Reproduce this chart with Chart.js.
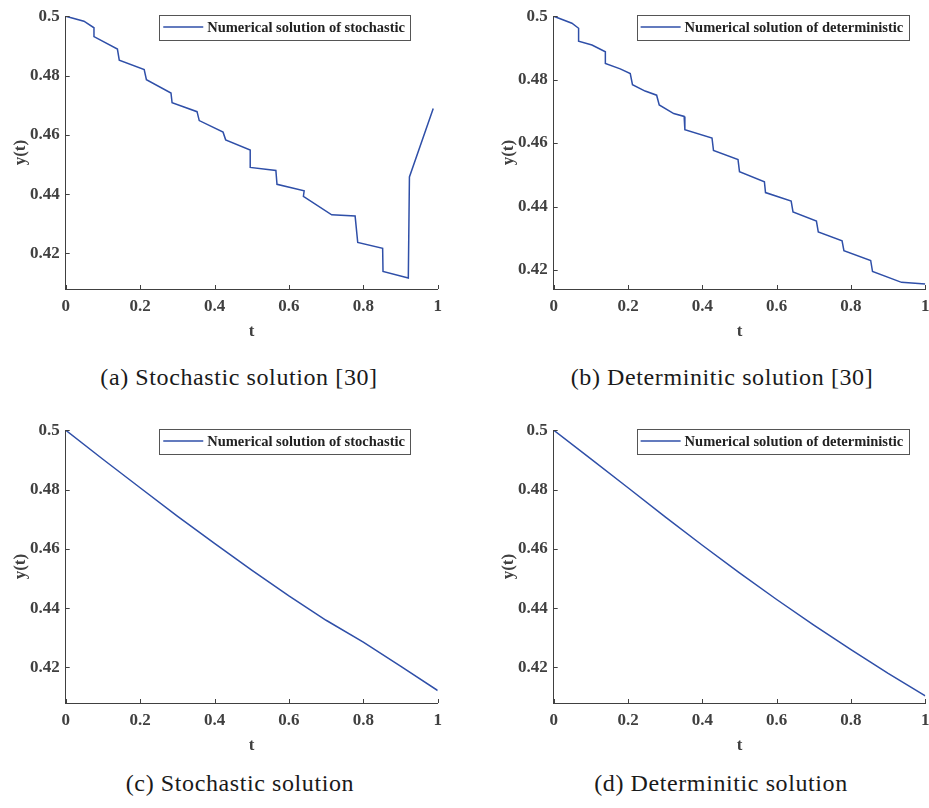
<!DOCTYPE html>
<html>
<head>
<meta charset="utf-8">
<script src="https://cdn.jsdelivr.net/npm/chart.js@4"></script>
<style>

  body{
    margin:0;
    background:#fff;
    width:929px;
    height:808px;
    position:relative;
    overflow:hidden;
  }

  canvas{
    position:absolute;
  }

  .cap{
    position:absolute;
    font-family:"Liberation Serif", "Times New Roman", serif;
    font-size:24px;
    letter-spacing:0.6px;
    line-height:28px;
    color:#1a1a1a;
    white-space:nowrap;
    transform:translateX(-50%);
  }

</style>
</head>
<body>

<canvas id="chartA" width="465" height="345" style="left:0;top:0"></canvas>
<canvas id="chartB" width="460" height="345" style="left:488px;top:0"></canvas>
<canvas id="chartC" width="465" height="345" style="left:0;top:414px"></canvas>
<canvas id="chartD" width="460" height="345" style="left:488px;top:414px"></canvas>

<div class="cap" style="left:239px;top:363px">(a) Stochastic solution [30]</div>
<div class="cap" style="left:722px;top:363px">(b) Determinitic solution [30]</div>
<div class="cap" style="left:240px;top:769px">(c) Stochastic solution</div>
<div class="cap" style="left:721px;top:769px">(d) Determinitic solution</div>

<script>

// =====================================
// DATA
// =====================================

const stochRefT =
  [0, 0.049, 0.076, 0.076, 0.139, 0.144, 0.211, 0.217, 0.283, 0.286,
   0.353, 0.359, 0.423, 0.430, 0.496, 0.496, 0.565, 0.568, 0.641, 0.639,
   0.715, 0.778, 0.785, 0.852, 0.853, 0.921, 0.924, 0.988];

const stochRefY =
  [0.5, 0.4983, 0.4961, 0.4931, 0.4889, 0.4852, 0.482, 0.4786, 0.4741, 0.4708,
   0.4678, 0.4648, 0.4609, 0.4583, 0.4549, 0.449, 0.448, 0.4433, 0.4411, 0.4392,
   0.433, 0.4326, 0.4237, 0.4217, 0.4139, 0.4117, 0.4458, 0.4689];

const detRefT =
  [0, 0.049, 0.067, 0.067, 0.103, 0.139, 0.139, 0.179, 0.206, 0.212,
   0.246, 0.277, 0.284, 0.323, 0.351, 0.353, 0.426, 0.430, 0.496, 0.5,
   0.567, 0.570, 0.639, 0.644, 0.707, 0.712, 0.776, 0.781, 0.853, 0.858,
   0.936, 1.0];

const detRefY =
  [0.5, 0.4978, 0.4962, 0.4921, 0.4909, 0.4888, 0.4851, 0.4834, 0.4819, 0.4784,
   0.4764, 0.4751, 0.472, 0.4693, 0.4684, 0.4642, 0.4616, 0.4577, 0.4548, 0.451,
   0.4478, 0.4444, 0.4417, 0.4383, 0.4354, 0.432, 0.4292, 0.4261, 0.423, 0.4195,
   0.4161, 0.4156];

const ownT =
  [0, 0.1, 0.2, 0.3, 0.4, 0.5, 0.6, 0.7, 0.8, 0.9, 1.0];

const stochOwnY =
  [0.5, 0.4902, 0.4806, 0.471, 0.4618, 0.4528, 0.4441, 0.4359, 0.4285, 0.4204, 0.4122];

const detOwnY =
  [0.5, 0.4903, 0.4806, 0.4708, 0.4612, 0.4519, 0.4429, 0.4343, 0.426, 0.418, 0.4104];

const xTicks =
  [0, 0.2, 0.4, 0.6, 0.8, 1];

const yTicks =
  [0.42, 0.44, 0.46, 0.48, 0.5];

const stochLabel = "Numerical solution of stochastic";
const detLabel = "Numerical solution of deterministic";


// =====================================
// STYLE
// =====================================

const LINE_BLUE = "#2f4fa8";
const INK = "#404040";
const SERIF = "'Liberation Serif', 'Times New Roman', serif";


// =====================================
// PLUGIN: inward ticks + boxed legend
// =====================================

const matlabAxes = {

  id:"matlabAxes",

  afterDraw(chart, args, opts){

    const ctx = chart.ctx;
    const area = chart.chartArea;
    const xs = chart.scales.x;
    const ys = chart.scales.y;

    ctx.save();

    // ticks pointing into the plot
    ctx.strokeStyle = INK;
    ctx.lineWidth = 1;
    ctx.beginPath();

    xs.ticks.forEach(t => {
      const px = Math.round(xs.getPixelForValue(t.value)) + 0.5;
      ctx.moveTo(px, area.bottom);
      ctx.lineTo(px, area.bottom - 4);
    });

    ys.ticks.forEach(t => {
      const py = Math.round(ys.getPixelForValue(t.value)) + 0.5;
      ctx.moveTo(area.left, py);
      ctx.lineTo(area.left + 4, py);
    });

    ctx.stroke();

    // legend box
    const ds = chart.data.datasets[0];

    ctx.font = "bold 14.5px " + SERIF;

    const textW = ctx.measureText(ds.label).width;
    const w = 4 + 40 + 4 + textW + 5;
    const h = 24.5;
    const right = area.right - opts.rightGap;
    const left = right - w;
    const top = area.top - 1.5;

    ctx.fillStyle = "#fff";
    ctx.fillRect(left, top, w, h);

    ctx.strokeStyle = "#555";
    ctx.lineWidth = 1;
    ctx.strokeRect(Math.round(left) + 0.5, Math.round(top) + 0.5, Math.round(w), Math.round(h));

    ctx.strokeStyle = ds.borderColor;
    ctx.lineWidth = ds.borderWidth;
    ctx.beginPath();
    ctx.moveTo(left + 4, top + h / 2);
    ctx.lineTo(left + 44, top + h / 2);
    ctx.stroke();

    ctx.fillStyle = "#222";
    ctx.textBaseline = "middle";
    ctx.textAlign = "left";
    ctx.fillText(ds.label, left + 48, top + h / 2 + 1);

    ctx.restore();

  }

};


// =====================================
// CHART BUILDER
// =====================================

function fmt(v){

  return String(Number(v.toFixed(2)));

}

function makeChart(id, ts, ys, label, yMin, padRight, legendGap){

  const ctx =
    document.getElementById(id).getContext("2d");

  return new Chart(ctx, {

    type:"line",

    data:{

      datasets:[

        {
          label,
          data:ts.map((t, i) => ({ x:t, y:ys[i] })),
          borderColor:LINE_BLUE,
          borderWidth:1.5,
          pointRadius:0,
          tension:0,
          fill:false
        }

      ]

    },

    plugins:[matlabAxes],

    options:{

      responsive:false,
      animation:false,
      events:[],

      layout:{
        padding:{ top:14, left:0, right:padRight, bottom:0 }
      },

      plugins:{
        legend:{ display:false },
        tooltip:{ enabled:false },
        matlabAxes:{ rightGap:legendGap }
      },

      scales:{

        x:{
          type:"linear",
          min:0,
          max:1,
          afterBuildTicks:s => { s.ticks = xTicks.map(v => ({ value:v })); },
          afterFit:s => { s.height = 56; },
          grid:{ display:false, drawTicks:false },
          border:{ display:true, color:INK, width:1 },
          ticks:{
            padding:7,
            color:INK,
            font:{ family:SERIF, size:17, weight:"bold" },
            callback:v => fmt(v)
          },
          title:{
            display:true,
            text:"t",
            color:INK,
            font:{ family:SERIF, size:17, weight:"bold" },
            padding:{ top:0, bottom:3 }
          }
        },

        y:{
          type:"linear",
          min:yMin,
          max:0.5,
          afterBuildTicks:s => { s.ticks = yTicks.map(v => ({ value:v })); },
          afterFit:s => { s.width = 65.7; },
          grid:{ display:false, drawTicks:false },
          border:{ display:true, color:INK, width:1 },
          ticks:{
            padding:6,
            color:INK,
            font:{ family:SERIF, size:17, weight:"bold" },
            callback:v => fmt(v)
          },
          title:{
            display:true,
            text:"y(t)",
            color:INK,
            font:{ family:SERIF, size:17, weight:"bold" },
            padding:{ top:10, bottom:0 }
          }
        }

      }

    }

  });

}


// =====================================
// FOUR PANELS
// =====================================

makeChart("chartA", stochRefT, stochRefY, stochLabel, 0.408, 27.3, 27.7);
makeChart("chartB", detRefT, detRefY, detLabel, 0.414, 22.7, 17);
makeChart("chartC", ownT, stochOwnY, stochLabel, 0.408, 27.3, 27.7);
makeChart("chartD", ownT, detOwnY, detLabel, 0.408, 22.7, 17);

</script>
</body>
</html>
